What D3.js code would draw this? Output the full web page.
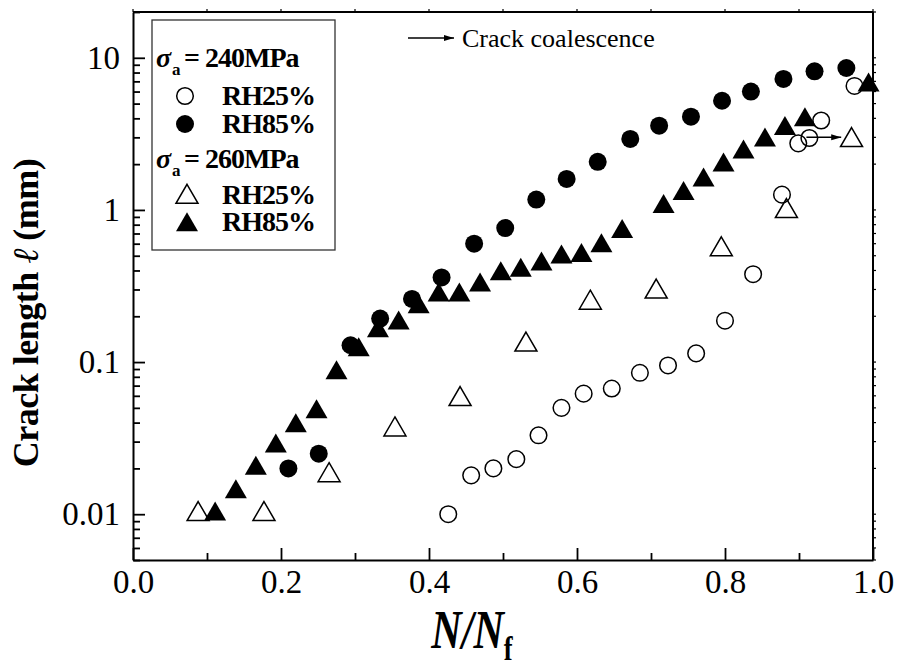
<!DOCTYPE html>
<html>
<head>
<meta charset="utf-8">
<script src="https://cdn.jsdelivr.net/npm/d3@7"></script>
<style>
  body { margin: 0; background: #fff; }
  text { font-family: "Liberation Serif", "Times New Roman", serif; fill: #000; }
</style>
</head>
<body>
<svg id="chart" width="900" height="670"></svg>
<script>
// crack growth data, [N/Nf, crack length mm]
var s240rh25 = [
  [0.426, 0.010], [0.457, 0.018], [0.487, 0.020], [0.518, 0.023], [0.548, 0.033],
  [0.579, 0.050], [0.609, 0.062], [0.647, 0.067], [0.685, 0.085], [0.723, 0.095],
  [0.761, 0.114], [0.800, 0.187], [0.838, 0.378], [0.877, 1.26], [0.899, 2.74],
  [0.914, 2.97], [0.930, 3.87], [0.975, 6.53]
];
var s240rh85 = [
  [0.210, 0.020], [0.251, 0.025], [0.294, 0.129], [0.334, 0.193], [0.377, 0.26],
  [0.417, 0.36], [0.461, 0.60], [0.503, 0.76], [0.545, 1.17], [0.586, 1.60],
  [0.628, 2.07], [0.672, 2.93], [0.711, 3.58], [0.754, 4.10], [0.796, 5.22],
  [0.835, 6.0], [0.879, 7.26], [0.921, 8.15], [0.964, 8.57]
];
var s260rh25 = [
  [0.088, 0.010], [0.177, 0.010], [0.265, 0.018], [0.354, 0.036], [0.442, 0.057],
  [0.531, 0.13], [0.618, 0.245], [0.707, 0.29], [0.795, 0.55], [0.883, 0.98],
  [0.971, 2.87]
];
var s260rh85 = [
  [0.111, 0.010], [0.139, 0.014], [0.166, 0.020], [0.193, 0.028], [0.220, 0.038],
  [0.248, 0.047], [0.275, 0.085], [0.305, 0.12], [0.331, 0.16], [0.359, 0.18],
  [0.386, 0.23], [0.413, 0.275], [0.441, 0.275], [0.469, 0.32], [0.497, 0.38],
  [0.524, 0.40], [0.552, 0.44], [0.579, 0.49], [0.606, 0.50], [0.633, 0.58],
  [0.661, 0.72], [0.717, 1.05], [0.744, 1.28], [0.771, 1.57], [0.798, 1.97],
  [0.825, 2.4], [0.854, 2.87], [0.881, 3.42], [0.908, 3.9], [0.994, 6.6]
];

// coalescence arrow (from, to) at the same crack length
var coalescence = [[0.910, 3.0], [0.957, 3.0]];

var xTicks = [0, 0.2, 0.4, 0.6, 0.8, 1.0];
var xTickLabels = ["0.0", "0.2", "0.4", "0.6", "0.8", "1.0"];
var xMinor = [0.1, 0.3, 0.5, 0.7, 0.9];
var yTicks = [0.01, 0.1, 1, 10];
var yTickLabels = ["0.01", "0.1", "1", "10"];

var margin = { left: 133, right: 27, top: 12, bottom: 110 };
var W = 900, H = 670;
var pw = W - margin.left - margin.right,
    ph = H - margin.top - margin.bottom;

var svg = d3.select("#chart");
var g = svg.append("g").attr("transform", "translate(" + margin.left + "," + margin.top + ")");

var x = d3.scaleLinear().domain([0, 1]).range([0, pw]);
var y = d3.scaleLog().domain([0.005, 20]).range([ph, 0]);

// minor log ticks 2..9 in each decade
var yMinor = [];
[0.001, 0.01, 0.1, 1, 10].forEach(function (d) {
  for (var k = 2; k <= 9; k++) {
    var v = d * k;
    if (v >= 0.005 && v <= 20) yMinor.push(v);
  }
});

// frame: top and right sides with short outward ticks
g.append("line").attr("x1", 0).attr("x2", pw).attr("y1", 0).attr("y2", 0)
  .attr("stroke", "#000").attr("stroke-width", 2);
g.append("line").attr("x1", pw).attr("x2", pw).attr("y1", 0).attr("y2", ph)
  .attr("stroke", "#000").attr("stroke-width", 2);
g.selectAll("line.topTick").data(xTicks.concat(xMinor)).enter().append("line")
  .attr("class", "topTick")
  .attr("x1", function (d) { return x(d); }).attr("x2", function (d) { return x(d); })
  .attr("y1", 0).attr("y2", -3).attr("stroke", "#000").attr("stroke-width", 1.2);
g.selectAll("line.rightTick").data(yTicks.concat(yMinor)).enter().append("line")
  .attr("class", "rightTick")
  .attr("x1", pw).attr("x2", pw + 3)
  .attr("y1", function (d) { return y(d); }).attr("y2", function (d) { return y(d); })
  .attr("stroke", "#000").attr("stroke-width", 1.2);

// bottom axis, ticks pointing inward
g.append("g").attr("transform", "translate(0," + ph + ")")
  .call(d3.axisBottom(x).tickValues(xTicks).tickSize(-12).tickSizeOuter(0)
    .tickPadding(10).tickFormat(function (d, i) { return xTickLabels[i]; }));
g.append("g").attr("transform", "translate(0," + ph + ")")
  .call(d3.axisBottom(x).tickValues(xMinor).tickSize(-7).tickSizeOuter(0).tickFormat(""))
  .select(".domain").remove();

// left axis
g.append("g")
  .call(d3.axisLeft(y).tickValues(yTicks).tickSize(-12).tickSizeOuter(0)
    .tickPadding(13).tickFormat(function (d, i) { return yTickLabels[i]; }));
g.append("g")
  .call(d3.axisLeft(y).tickValues(yMinor).tickSize(-7).tickSizeOuter(0).tickFormat(""))
  .select(".domain").remove();

g.selectAll(".domain").attr("stroke", "#000").attr("stroke-width", 2);
g.selectAll(".tick line").attr("stroke", "#000").attr("stroke-width", 1.8);
g.selectAll(".tick text")
  .style("font-family", "'Liberation Serif', serif")
  .style("font-size", "33px").attr("fill", "#000");

// markers
function triPath(h, w) {
  return "M0," + (-2 * h / 3) + "L" + (w / 2) + "," + (h / 3) + "L" + (-w / 2) + "," + (h / 3) + "Z";
}
var tri = triPath(19, 22);

function drawCircles(data, filled) {
  g.append("g").selectAll("circle").data(data).enter().append("circle")
    .attr("cx", function (d) { return x(d[0]); })
    .attr("cy", function (d) { return y(d[1]); })
    .attr("r", filled ? 9 : 8.3)
    .attr("fill", filled ? "#000" : "none")
    .attr("stroke", "#000").attr("stroke-width", filled ? 0 : 1.5);
}
function drawTriangles(data, filled) {
  g.append("g").selectAll("path").data(data).enter().append("path")
    .attr("d", tri)
    .attr("transform", function (d) { return "translate(" + x(d[0]) + "," + y(d[1]) + ")"; })
    .attr("fill", filled ? "#000" : "none")
    .attr("stroke", "#000").attr("stroke-width", filled ? 0 : 1.5);
}

drawCircles(s240rh25, false);
drawCircles(s240rh85, true);
drawTriangles(s260rh25, false);
drawTriangles(s260rh85, true);

// arrow head marker
svg.append("defs").append("marker")
  .attr("id", "head").attr("viewBox", "0 0 10 10")
  .attr("refX", 10).attr("refY", 5)
  .attr("markerWidth", 10).attr("markerHeight", 10)
  .attr("markerUnits", "userSpaceOnUse").attr("orient", "auto")
  .append("path").attr("d", "M0,2L10,5L0,8Z").attr("fill", "#000");

g.append("line")
  .attr("x1", x(coalescence[0][0])).attr("y1", y(coalescence[0][1]))
  .attr("x2", x(coalescence[1][0])).attr("y2", y(coalescence[1][1]))
  .attr("stroke", "#000").attr("stroke-width", 1.5).attr("marker-end", "url(#head)");

// "Crack coalescence" note
svg.append("line").attr("x1", 408).attr("x2", 454).attr("y1", 38).attr("y2", 38)
  .attr("stroke", "#000").attr("stroke-width", 1.5).attr("marker-end", "url(#head)");
svg.append("text").attr("x", 462).attr("y", 47)
  .style("font-size", "26px").text("Crack coalescence");

// legend
var lg = svg.append("g");
lg.append("rect").attr("x", 152).attr("y", 20).attr("width", 183).attr("height", 230)
  .attr("fill", "#fff").attr("stroke", "#333").attr("stroke-width", 1.3);

function sigmaRow(yb, label) {
  var t = lg.append("text").attr("y", yb).style("font-weight", "bold").style("font-size", "28px");
  t.append("tspan").attr("x", 156).style("font-style", "italic").text("σ");
  t.append("tspan").attr("x", 172).attr("dy", 8).style("font-size", "17px").text("a");
  t.append("tspan").attr("x", 184).attr("dy", -8).style("letter-spacing", "-1px").text("= " + label);
}
function rhRow(yb, label) {
  lg.append("text").attr("x", 222).attr("y", yb)
    .style("font-weight", "bold").style("font-size", "28px").style("letter-spacing", "-1px")
    .text(label);
}

sigmaRow(67, "240MPa");
lg.append("circle").attr("cx", 185).attr("cy", 96).attr("r", 8.3)
  .attr("fill", "none").attr("stroke", "#000").attr("stroke-width", 1.5);
rhRow(105, "RH25%");
lg.append("circle").attr("cx", 185).attr("cy", 124).attr("r", 9).attr("fill", "#000");
rhRow(133, "RH85%");
sigmaRow(168, "260MPa");
lg.append("path").attr("d", tri).attr("transform", "translate(187,197)")
  .attr("fill", "none").attr("stroke", "#000").attr("stroke-width", 1.5);
rhRow(204, "RH25%");
lg.append("path").attr("d", tri).attr("transform", "translate(187,225)").attr("fill", "#000");
rhRow(231, "RH85%");

// axis titles
var yt = svg.append("text")
  .attr("transform", "translate(38,313) rotate(-90)")
  .attr("text-anchor", "middle")
  .style("font-weight", "bold").style("font-size", "36px").style("letter-spacing", "-0.5px");
yt.append("tspan").text("Crack length ");
yt.append("tspan").style("font-style", "italic").style("font-weight", "normal").text(" ℓ ");
yt.append("tspan").text(" (mm)");

var xt = svg.append("text")
  .attr("transform", "translate(472,648) scale(0.78,1)")
  .attr("text-anchor", "middle")
  .style("font-weight", "bold").style("font-style", "italic").style("font-size", "54px");
xt.append("tspan").text("N/N");
xt.append("tspan").attr("dy", 12).style("font-style", "normal").style("font-size", "34px").text("f");
</script>
</body>
</html>
